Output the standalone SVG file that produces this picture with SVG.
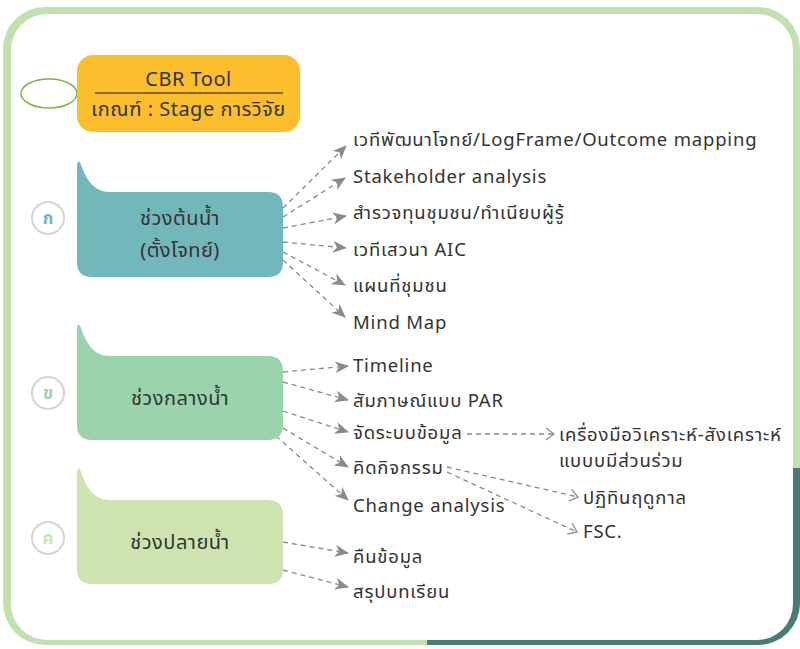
<svg xmlns="http://www.w3.org/2000/svg" width="800" height="649" viewBox="0 0 800 649">
<defs>
<style>
text{font-family:"Noto Sans","Noto Sans Thai","Loma",sans-serif;fill:#333;}
.lbl{font-size:18.5px;letter-spacing:0.8px;}
.ntx{font-size:20px;letter-spacing:0.5px;text-anchor:middle;}
.cn{fill:none;stroke:#8a8a8a;stroke-width:1.3;stroke-dasharray:5 4;}
.p{marker-end:url(#ah);}
.s{marker-end:url(#ch);}
.circ{fill:#fff;stroke:#d4d4d4;stroke-width:2;}
.cl{font-size:17px;font-weight:bold;text-anchor:middle;}
</style>
<marker id="ah" viewBox="0 0 14 12" refX="13" refY="6" markerWidth="14" markerHeight="12" markerUnits="userSpaceOnUse" orient="auto">
<path d="M0,0 L14,6 L0,12 L4,6 Z" fill="#8a8a8a"/>
</marker>
<marker id="ch" viewBox="0 0 10 14" refX="9" refY="7" markerWidth="10" markerHeight="14" markerUnits="userSpaceOnUse" orient="auto">
<path d="M1,1 L9,7 L1,13" fill="none" stroke="#8a8a8a" stroke-width="1.3"/>
</marker>
<clipPath id="tealclip">
<rect x="427" y="600" width="373" height="49"/>
<rect x="760" y="468" width="40" height="181"/>
</clipPath>
</defs>

<g id="frame">
<rect x="3" y="7" width="797" height="638" rx="42" fill="#c3e0b0"/>
<rect x="3" y="7" width="797" height="638" rx="42" fill="#4a7b74" clip-path="url(#tealclip)"/>
<rect x="11" y="14" width="782" height="626" rx="36" fill="#fff"/>
</g>

<g id="connectors">
<line class="cn p" x1="283" y1="208" x2="346" y2="146"/>
<line class="cn p" x1="283" y1="217" x2="345" y2="178"/>
<line class="cn p" x1="283" y1="228" x2="346" y2="216"/>
<line class="cn p" x1="283" y1="242" x2="346" y2="248"/>
<line class="cn p" x1="283" y1="252" x2="345" y2="285"/>
<line class="cn p" x1="283" y1="260" x2="345" y2="317"/>
<line class="cn p" x1="283" y1="372" x2="348" y2="366"/>
<line class="cn p" x1="283" y1="382" x2="348" y2="400"/>
<line class="cn p" x1="283" y1="411" x2="348" y2="432"/>
<line class="cn p" x1="283" y1="428" x2="348" y2="467"/>
<line class="cn p" x1="276" y1="436" x2="348" y2="500"/>
<line class="cn p" x1="283" y1="542" x2="348" y2="553"/>
<line class="cn p" x1="283" y1="570" x2="348" y2="587"/>
<line class="cn s" x1="467" y1="434" x2="554" y2="434"/>
<line class="cn s" x1="447" y1="467" x2="578" y2="497"/>
<line class="cn s" x1="447" y1="472" x2="577" y2="532"/>
</g>

<g id="tag">
<ellipse cx="49" cy="93.5" rx="28" ry="14.5" fill="#fff" stroke="#7ab648" stroke-width="1.5"/>
</g>

<g id="cbr">
<rect x="77" y="55" width="223" height="77" rx="16" fill="#fbbf2d"/>
<text x="188.5" y="86" style="font-size:20px;letter-spacing:0.5px;text-anchor:middle">CBR Tool</text>
<line x1="95" y1="93" x2="283" y2="93" stroke="#8a6a1a" stroke-width="2"/>
<text x="188.5" y="116" style="font-size:20px;letter-spacing:0.5px;text-anchor:middle">เกณฑ์ : Stage การวิจัย</text>
</g>

<g id="n1">
<circle class="circ" cx="48" cy="218" r="16"/>
<text class="cl" x="48" y="224" style="fill:#72b8bb">ก</text>
<path d="M77,166 Q77,161 80,162 C86,180 94,192 110,192 L268,192 Q283,192 283,207 L283,262 Q283,277 268,277 L92,277 Q77,277 77,262 Z" fill="#72b8bb"/>
<text class="ntx" x="180" y="225">ช่วงต้นน้ำ</text>
<text class="ntx" x="180" y="257">(ตั้งโจทย์)</text>
</g>

<g id="n2">
<circle class="circ" cx="48" cy="393" r="16"/>
<text class="cl" x="48" y="399" style="fill:#9bd3ad">ข</text>
<path d="M77,329 Q77,324 80,325 C86,344 94,356 110,356 L268,356 Q283,356 283,371 L283,425 Q283,440 268,440 L92,440 Q77,440 77,425 Z" fill="#9bd3ad"/>
<text class="ntx" x="180" y="405">ช่วงกลางน้ำ</text>
</g>

<g id="n3">
<circle class="circ" cx="48" cy="538" r="16"/>
<text class="cl" x="48" y="544" style="fill:#cde4b0">ค</text>
<path d="M77,473 Q77,468 80,469 C86,488 94,500 110,500 L268,500 Q283,500 283,515 L283,569 Q283,584 268,584 L92,584 Q77,584 77,569 Z" fill="#cde4b0"/>
<text class="ntx" x="180" y="549">ช่วงปลายน้ำ</text>
</g>

<g id="items1">
<text class="lbl" x="353" y="146">เวทีพัฒนาโจทย์/LogFrame/Outcome mapping</text>
<text class="lbl" x="353" y="183">Stakeholder analysis</text>
<text class="lbl" x="353" y="219">สำรวจทุนชุมชน/ทำเนียบผู้รู้</text>
<text class="lbl" x="353" y="256">เวทีเสวนา AIC</text>
<text class="lbl" x="353" y="292">แผนที่ชุมชน</text>
<text class="lbl" x="353" y="329">Mind Map</text>
</g>

<g id="items2">
<text class="lbl" x="353" y="372">Timeline</text>
<text class="lbl" x="353" y="407">สัมภาษณ์แบบ PAR</text>
<text class="lbl" x="353" y="439">จัดระบบข้อมูล</text>
<text class="lbl" x="353" y="474">คิดกิจกรรม</text>
<text class="lbl" x="353" y="512">Change analysis</text>
</g>

<g id="items3">
<text class="lbl" x="353" y="563">คืนข้อมูล</text>
<text class="lbl" x="353" y="598">สรุปบทเรียน</text>
</g>

<g id="sub">
<text class="lbl" x="559" y="441">เครื่องมือวิเคราะห์-สังเคราะห์</text>
<text class="lbl" x="559" y="467">แบบบมีส่วนร่วม</text>
<text class="lbl" x="583" y="504">ปฏิทินฤดูกาล</text>
<text class="lbl" x="583" y="538">FSC.</text>
</g>
</svg>
